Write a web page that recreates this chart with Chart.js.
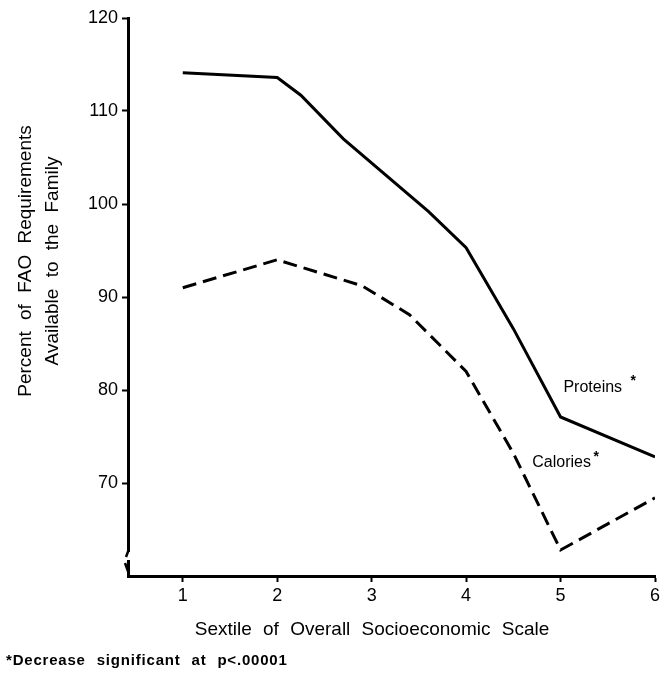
<!DOCTYPE html>
<html>
<head>
<meta charset="utf-8">
<script src="https://cdn.jsdelivr.net/npm/chart.js@4"></script>
<style>
  body { margin: 0; background: #fff; }
  #wrap { width: 670px; height: 679px; }
</style>
</head>
<body>
<div id="wrap"><canvas id="foodGraph"></canvas></div>
<script>
// values (sextile position, percent of FAO requirement)
const proteinX = [1, 2, 2.25, 2.7, 3.6, 4, 4.5, 5, 6];
const proteinY = [114.1, 113.6, 111.7, 107.0, 99.2, 95.3, 86.6, 77.1, 72.8];
const calorieX = [1, 2, 2.9, 3.4, 4, 4.5, 5, 6];
const calorieY = [91.0, 94.0, 91.2, 88.1, 82.0, 73.2, 62.8, 68.4];

const sextileTicks = [1, 2, 3, 4, 5, 6];
const percentTicks = [70, 80, 90, 100, 110, 120];

const yTitle = ["Percent of FAO Requirements", "Available to the Family"];
const xTitle = "Sextile of Overall Socioeconomic Scale";
const footNote = "*Decrease significant at p<.00001";

const FONT = "'Liberation Sans', Arial, sans-serif";

function toPoints(xs, ys) {
    return xs.map((x, i) => ({x: x, y: ys[i]}));
}

// series labels, axis titles, footnote and the axis break
const textPlugin = {
    id: "texts",
    afterDraw(chart) {
        const c = chart.ctx;
        const xs = chart.scales.x;
        const ys = chart.scales.y;
        const area = chart.chartArea;
        c.save();

        // axis break on the y axis near the origin
        c.fillStyle = "#fff";
        c.fillRect(area.left - 3, area.bottom - 24, 6, 8);
        c.strokeStyle = "#000";
        c.lineWidth = 2.5;
        c.beginPath();
        c.moveTo(area.left + 1, area.bottom - 27);
        c.lineTo(area.left - 2, area.bottom - 19);
        c.moveTo(area.left - 3, area.bottom - 13);
        c.lineTo(area.left + 1, area.bottom - 2);
        c.stroke();

        c.fillStyle = "#000";
        c.textBaseline = "middle";
        if ("wordSpacing" in c) c.wordSpacing = "6px";

        // y title (two rotated lines)
        c.save();
        c.translate(26, 261);
        c.rotate(-Math.PI / 2);
        c.textAlign = "center";
        c.font = "19px " + FONT;
        c.fillText(yTitle[0], 0, 0);
        c.fillText(yTitle[1], 0, 27);
        c.restore();

        // x title
        c.textAlign = "center";
        c.font = "19px " + FONT;
        c.fillText(xTitle, 372, 630);

        // footnote
        c.textAlign = "left";
        c.font = "bold 15px " + FONT;
        if ("letterSpacing" in c) c.letterSpacing = "0.8px";
        c.fillText(footNote, 6, 661);
        if ("letterSpacing" in c) c.letterSpacing = "0px";

        // series labels placed in data coordinates
        c.font = "16px " + FONT;
        c.fillText("Proteins", xs.getPixelForValue(5.03), ys.getPixelForValue(80.3));
        c.fillText("Calories", xs.getPixelForValue(4.70), ys.getPixelForValue(72.2));
        c.font = "bold 14px " + FONT;
        c.fillText("*", xs.getPixelForValue(5.74), ys.getPixelForValue(80.9));
        c.fillText("*", xs.getPixelForValue(5.35), ys.getPixelForValue(72.8));
        c.restore();
    }
};

const ctx = document.getElementById("foodGraph");

new Chart(ctx, {
    type: "line",
    data: {
        datasets: [{
            label: "Proteins",
            data: toPoints(proteinX, proteinY),
            borderColor: "#000",
            borderWidth: 3,
            pointRadius: 0,
            tension: 0,
            fill: false
        }, {
            label: "Calories",
            data: toPoints(calorieX, calorieY),
            borderColor: "#000",
            borderWidth: 3,
            borderDash: [14, 7],
            pointRadius: 0,
            tension: 0,
            fill: false
        }]
    },
    options: {
        responsive: true,
        maintainAspectRatio: false,
        animation: false,
        layout: {padding: {left: 0, top: 18, right: 15, bottom: 0}},
        plugins: {
            legend: {display: false},
            tooltip: {enabled: false}
        },
        scales: {
            x: {
                type: "linear",
                min: 0.42,
                max: 6,
                afterBuildTicks: (scale) => {
                    scale.ticks = sextileTicks.map(v => ({value: v}));
                },
                afterFit: (scale) => { scale.height = 103; },
                grid: {drawOnChartArea: false, tickLength: 6, tickWidth: 2, color: "#000"},
                border: {display: true, color: "#000", width: 3},
                ticks: {color: "#000", padding: 3, font: {size: 18, family: FONT}}
            },
            y: {
                min: 60,
                max: 120,
                afterBuildTicks: (scale) => {
                    scale.ticks = percentTicks.map(v => ({value: v}));
                },
                afterFit: (scale) => { scale.width = 128; },
                grid: {drawOnChartArea: false, tickLength: 6, tickWidth: 2, color: "#000"},
                border: {display: true, color: "#000", width: 3},
                ticks: {color: "#000", padding: 4, font: {size: 18, family: FONT}}
            }
        }
    },
    plugins: [textPlugin]
});
</script>
</body>
</html>
